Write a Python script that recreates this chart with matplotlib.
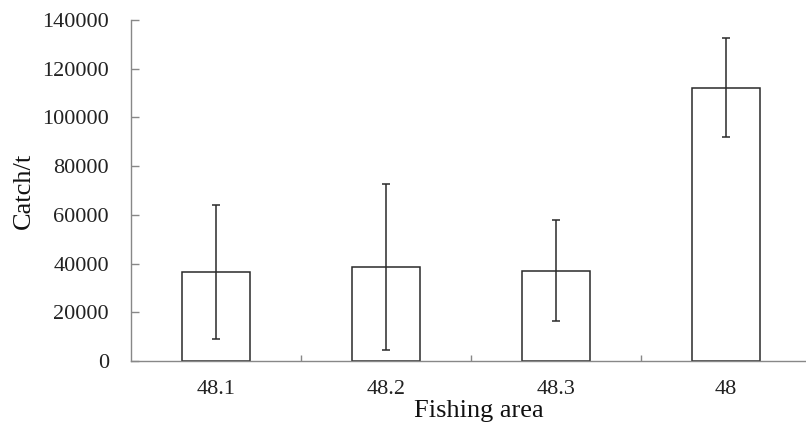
import matplotlib
matplotlib.use("Agg")
import matplotlib.pyplot as plt
import numpy as np

plt.rcParams['font.family'] = ['Liberation Serif', 'DejaVu Serif']

# Mean catch and spread for each fishing area
areas = ["48.1", "48.2", "48.3", "48"]
catch = [36700, 38500, 37100, 112200]
spread = [27500, 34000, 20800, 20400]

fig = plt.figure(figsize=(8.06, 4.23), dpi=100)
ax = fig.add_axes([0.1625, 0.1466, 0.8437, 0.806])

x = np.arange(len(areas))
ax.bar(x, catch, width=0.4, color="white", edgecolor="#2a2a2a", linewidth=1.1)
ax.errorbar(x, catch, yerr=spread, fmt="none", ecolor="#2a2a2a",
            elinewidth=1.1, capsize=3, capthick=1.1)

ax.set_xlim(-0.5, len(areas) - 0.5)
ax.set_ylim(0, 140000)
ax.set_yticks(np.arange(0, 140001, 20000))
ax.set_xticks(x)
ax.set_xticklabels(areas)
ax.set_xticks(np.arange(0.5, len(areas) - 0.5, 1.0), minor=True)

for side in ("top", "right"):
    ax.spines[side].set_visible(False)
for side in ("left", "bottom"):
    ax.spines[side].set_color("#888888")
    ax.spines[side].set_linewidth(1.0)

ax.tick_params(axis="y", direction="in", length=6, width=1.0, color="#888888",
               labelsize=16, pad=16, labelcolor="#222222")
ax.tick_params(axis="x", which="major", length=0, labelsize=16, pad=14,
               labelcolor="#222222")
ax.tick_params(axis="x", which="minor", direction="in", length=4, width=1.0,
               color="#888888")

ax.set_ylabel("Catch/t", fontsize=19, labelpad=5, color="#111111")
ax.set_xlabel("Fishing area", fontsize=19, color="#111111")
ax.xaxis.set_label_coords(0.512, -0.115)

fig.savefig("out.png", dpi=100)
